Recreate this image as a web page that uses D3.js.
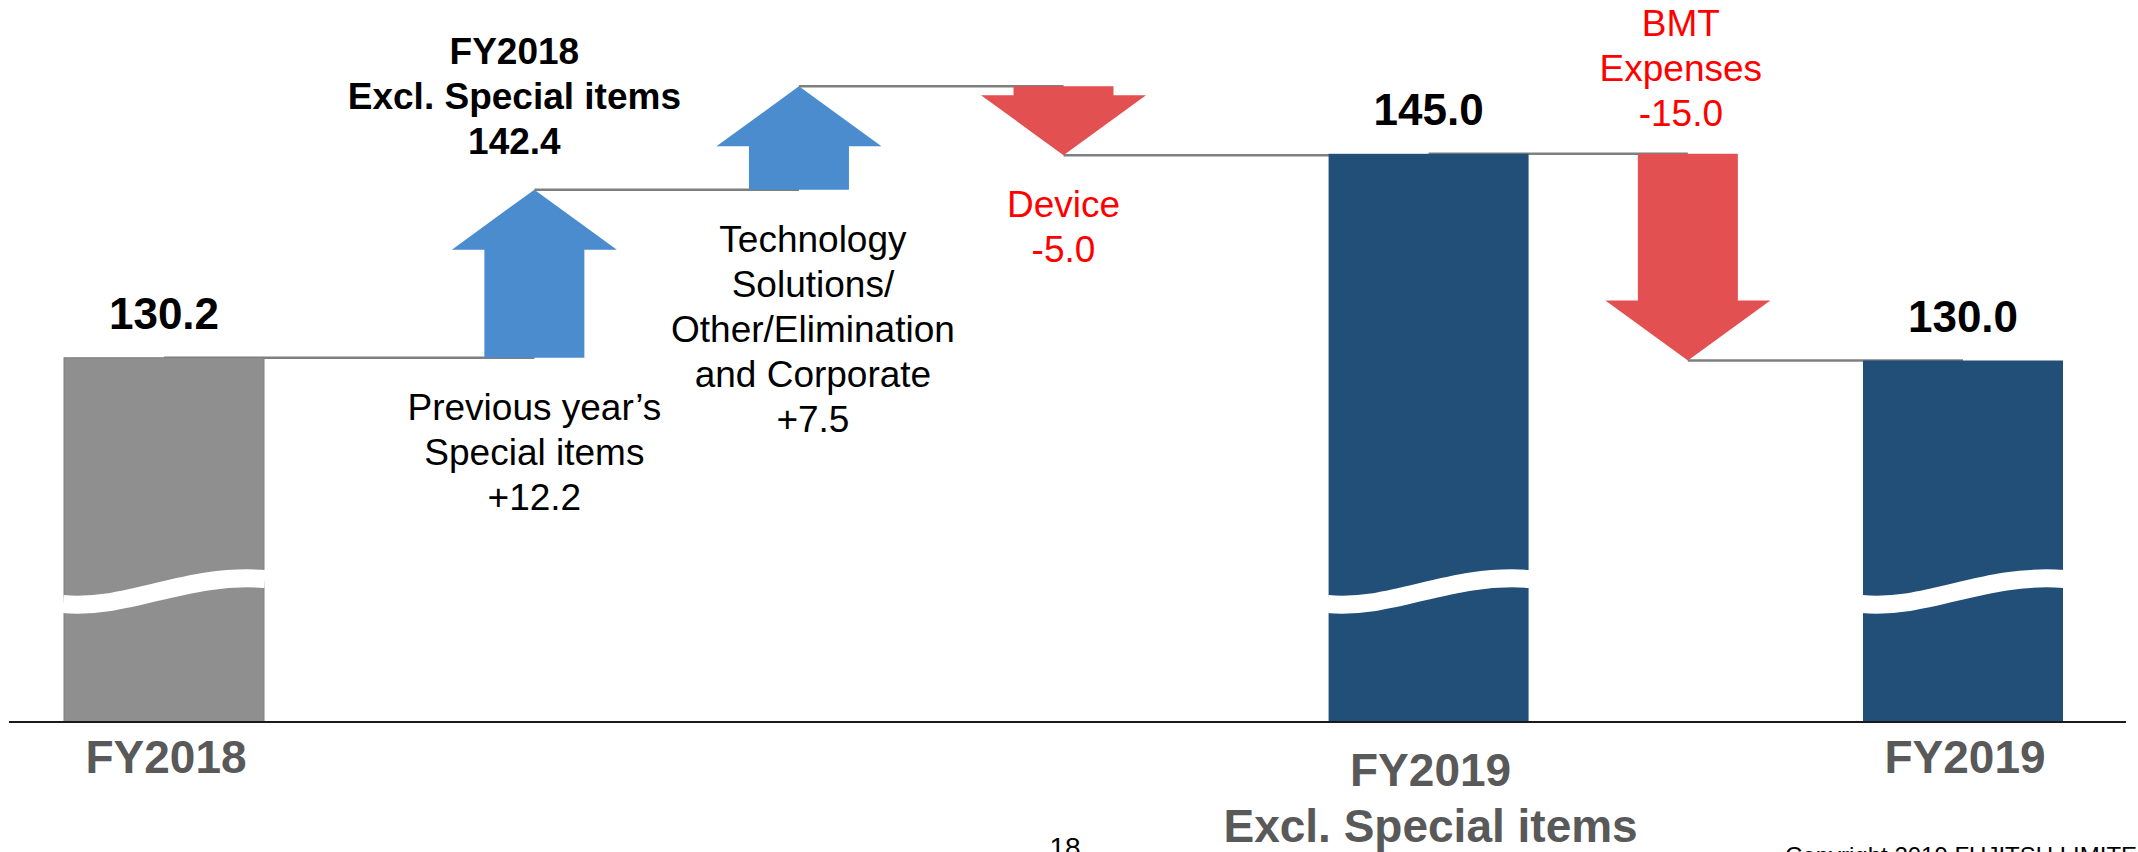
<!DOCTYPE html>
<html>
<head>
<meta charset="utf-8">
<script src="https://cdn.jsdelivr.net/npm/d3@7"></script>
<style>
  body { margin: 0; background: #fff; }
  svg { display: block; font-family: "Liberation Sans", Arial, sans-serif; }
</style>
</head>
<body>
<svg id="chart" width="2138" height="852"></svg>
<script>
// bridge steps, left to right
var stepNames = ["FY2018", "Previous year’s Special items", "Technology Solutions/Other/Elimination and Corporate",
  "Device", "FY2019 Excl. Special items", "BMT Expenses", "FY2019"];
var stepTypes = ["total", "delta", "delta", "delta", "total", "delta", "total"];
var stepValues = [130.2, 12.2, 7.5, -5.0, 145.0, -15.0, 130.0];

// text next to the delta arrows (the value line is added from stepValues)
var deltaLabelLines = [[], ["Previous year’s", "Special items"], ["Technology", "Solutions/", "Other/Elimination", "and Corporate"],
  ["Device"], [], ["BMT", "Expenses"], []];

// category labels under the baseline
var axisLabels = [["FY2018"], [], [], [], ["FY2019", "Excl. Special items"], [], ["FY2019"]];

// subtotal note after the first arrow
var subtotalLines = ["FY2018", "Excl. Special items"];
var subtotalValue = 142.4;
var subtotalAfter = 1;

// layout
var W = 2138, H = 852;
var baseY = 722;
var barW = 200, shaftW = 100, headW = 165, headLen = 60;
var slotGaps = [0, 1.4, 1, 1, 1.38, 0.98, 1.04];
var labelPlace = ["", "below", "below", "below", "", "above", ""];
var labelDx = [0, 0, 14, 0, 0, -7, 0];

var colTotal = ["#8f8f8f", "#214f78", "#214f78"];
var colUp = "#4a8ccd", colDown = "#e35052";

var svg = d3.select("#chart");

// x: cumulative slot units -> pixel centre
var slots = [];
var acc = 0;
for (var i = 0; i < slotGaps.length; i++) {
  acc += slotGaps[i];
  slots.push(acc);
}
var x = d3.scaleLinear()
  .domain([0, acc])
  .range([164, 1963]);

// y: only the part above the break is to scale
var y = d3.scaleLinear()
  .domain([130, 150])
  .range([360.5, 84.9]);

// running levels
var level = 0;
var steps = stepValues.map(function (v, i) {
  var s, e;
  if (stepTypes[i] === "total") { s = v; e = v; }
  else { s = level; e = level + v; }
  level = e;
  return { i: i, name: stepNames[i], type: stepTypes[i], value: v, start: s, end: e, cx: x(slots[i]) };
});

var fmtDelta = function (v) {
  return (v > 0 ? "+" : "-") + d3.format(".1f")(Math.abs(v));
};

// connector lines between steps
var links = steps.slice(0, -1).map(function (d, i) {
  return { x1: d.cx, x2: steps[i + 1].cx, y: y(d.end) };
});
svg.append("g")
  .selectAll("line")
  .data(links)
  .enter()
  .append("line")
  .attr("x1", function (d) { return d.x1; })
  .attr("x2", function (d) { return d.x2; })
  .attr("y1", function (d) { return d.y; })
  .attr("y2", function (d) { return d.y; })
  .attr("stroke", "#7f7f7f")
  .attr("stroke-width", 2.5);

// total bars
var totals = steps.filter(function (d) { return d.type === "total"; });

svg.append("g")
  .selectAll("rect")
  .data(totals)
  .enter()
  .append("rect")
  .attr("x", function (d) { return d.cx - barW / 2; })
  .attr("y", function (d) { return y(d.value); })
  .attr("width", barW)
  .attr("height", function (d) { return baseY - y(d.value); })
  .attr("fill", function (d, i) { return colTotal[i]; })
  .attr("stroke", function (d, i) { return i === 0 ? "#808080" : "none"; })
  .attr("stroke-width", 1);

// wavy break across each bar
svg.append("g")
  .selectAll("path")
  .data(totals)
  .enter()
  .append("path")
  .attr("d", function (d) {
    var x0 = d.cx - barW / 2;
    return "M" + (x0 - 1) + "," + (baseY - 118) +
      " C" + (x0 + 66) + "," + (baseY - 112) +
      " " + (x0 + 120) + "," + (baseY - 149) +
      " " + (x0 + barW + 1) + "," + (baseY - 143);
  })
  .attr("fill", "none")
  .attr("stroke", "#fff")
  .attr("stroke-width", 18);

// delta arrows
var deltas = steps.filter(function (d) { return d.type === "delta"; });

svg.append("g")
  .selectAll("path")
  .data(deltas)
  .enter()
  .append("path")
  .attr("d", function (d) {
    var ys = y(d.start), yt = y(d.end);
    var dir = yt > ys ? 1 : -1;
    var yb = yt - dir * headLen;
    var c = d.cx;
    return "M" + (c - shaftW / 2) + "," + ys +
      "L" + (c - shaftW / 2) + "," + yb +
      "L" + (c - headW / 2) + "," + yb +
      "L" + c + "," + yt +
      "L" + (c + headW / 2) + "," + yb +
      "L" + (c + shaftW / 2) + "," + yb +
      "L" + (c + shaftW / 2) + "," + ys + "Z";
  })
  .attr("fill", function (d) { return d.value > 0 ? colUp : colDown; });

// multi-line text helper
function addLines(g, lines, cx, y0, lh, opts) {
  var t = g.append("text")
    .attr("text-anchor", "middle")
    .attr("font-size", opts.size)
    .attr("font-weight", opts.weight || "normal")
    .attr("fill", opts.fill || "#000");
  lines.forEach(function (s, k) {
    t.append("tspan")
      .attr("x", cx)
      .attr("y", y0 + k * lh)
      .text(s);
  });
  return t;
}

var labels = svg.append("g");

// values above the total bars
totals.forEach(function (d) {
  addLines(labels, [d3.format(".1f")(d.value)], d.cx, y(d.value) - 29, 0,
    { size: 44, weight: "bold" });
});

// delta notes
deltas.forEach(function (d) {
  var lines = deltaLabelLines[d.i].concat([fmtDelta(d.value)]);
  var lh = 45;
  var fill = d.value > 0 ? "#000" : "#ff0000";
  var cx = d.cx + labelDx[d.i];
  var y0;
  if (labelPlace[d.i] === "below") {
    y0 = Math.max(y(d.start), y(d.end)) + 62;
  } else {
    y0 = Math.min(y(d.start), y(d.end)) - 28 - (lines.length - 1) * lh;
  }
  addLines(labels, lines, cx, y0, lh, { size: 37, fill: fill });
});

// subtotal note above the first arrow
var sub = steps[subtotalAfter];
var subLines = subtotalLines.concat([d3.format(".1f")(subtotalValue)]);
addLines(labels, subLines, sub.cx - 20, y(subtotalValue) - 36 - (subLines.length - 1) * 45, 45,
  { size: 37, weight: "bold" });

// baseline
svg.append("line")
  .attr("x1", 9)
  .attr("x2", 2126)
  .attr("y1", baseY)
  .attr("y2", baseY)
  .attr("stroke", "#1a1a1a")
  .attr("stroke-width", 2);

// category labels
steps.forEach(function (d) {
  var lines = axisLabels[d.i];
  if (!lines.length) return;
  var y0 = lines.length > 1 ? 786 : 773;
  addLines(labels, lines, d.cx + 2, y0, 56, { size: 46, weight: "bold", fill: "#595959" });
});

// footer (cut off by the page edge, as in the slide)
svg.append("text")
  .attr("x", 1065)
  .attr("y", 857)
  .attr("text-anchor", "middle")
  .attr("font-size", 28)
  .attr("fill", "#000")
  .text("18");

svg.append("text")
  .attr("x", 1785)
  .attr("y", 864)
  .attr("font-size", 24)
  .attr("fill", "#000")
  .text("Copyright 2019 FUJITSU LIMITED");
</script>
</body>
</html>
